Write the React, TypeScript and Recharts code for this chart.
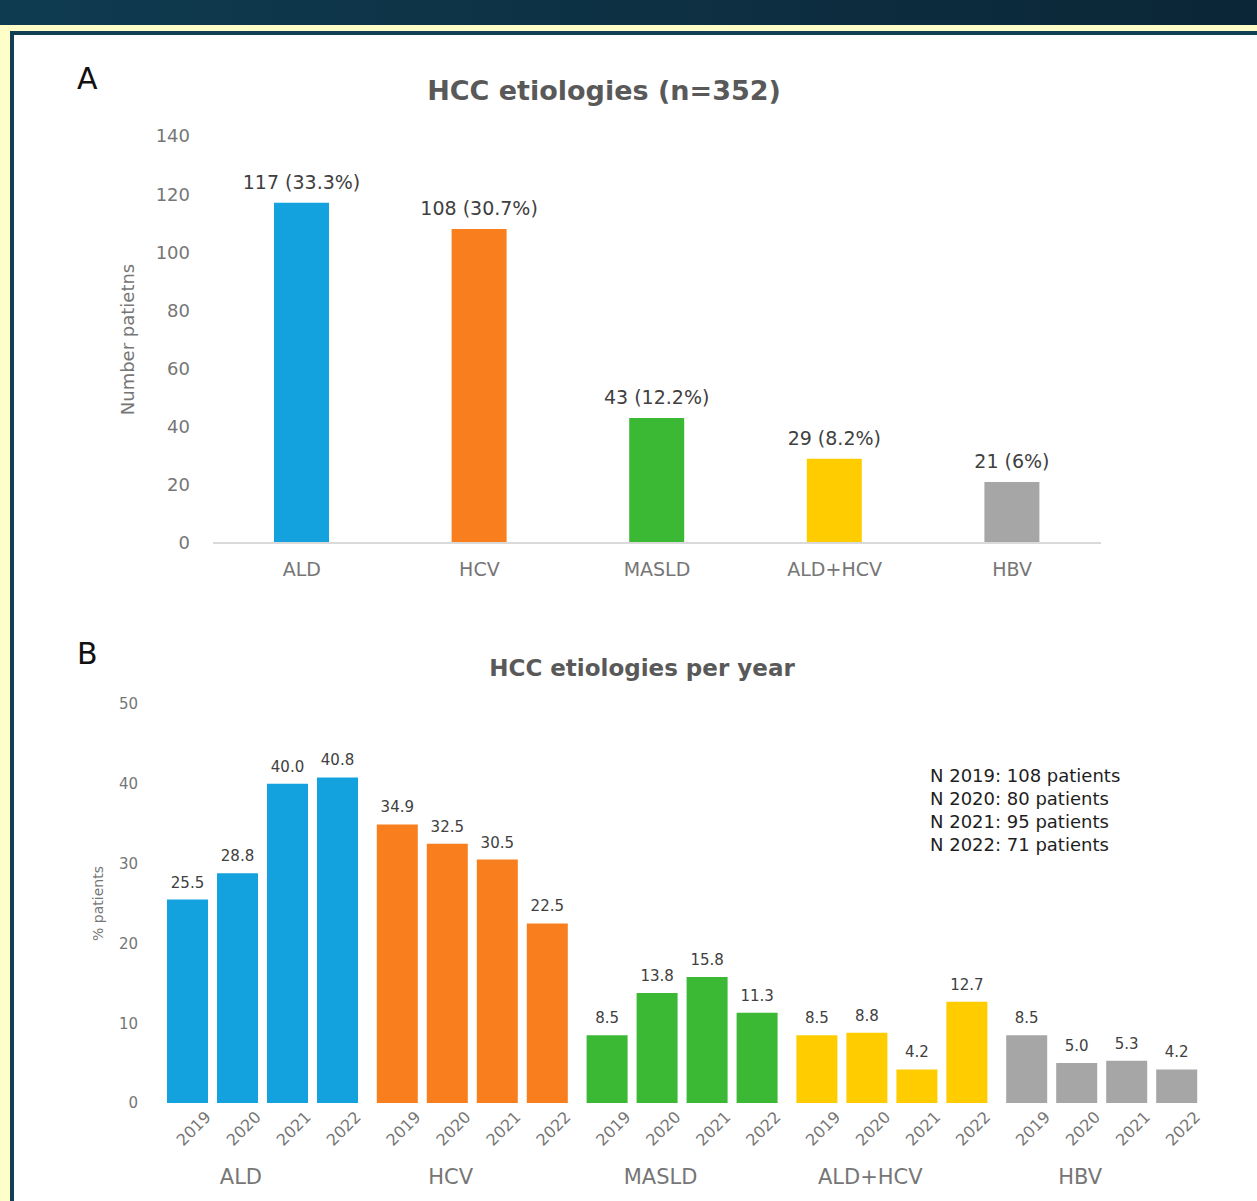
import React from 'react';
import { BarChart, Bar, XAxis, YAxis, Cell, LabelList, Label } from 'recharts';

const etiologies = ['ALD', 'HCV', 'MASLD', 'ALD+HCV', 'HBV'];
const patientCounts = [117, 108, 43, 29, 21];
const patientShares = ['33.3%', '30.7%', '12.2%', '8.2%', '6%'];
const etiologyColors = ['#13a2dd', '#f97e1d', '#3bb935', '#ffcc00', '#a6a6a6'];
const yearsList = ['2019', '2020', '2021', '2022'];
const pct2019 = [25.5, 34.9, 8.5, 8.5, 8.5];
const pct2020 = [28.8, 32.5, 13.8, 8.8, 5.0];
const pct2021 = [40.0, 30.5, 15.8, 4.2, 5.3];
const pct2022 = [40.8, 22.5, 11.3, 12.7, 4.2];
const yearTotals = [108, 80, 95, 71];
const ticksA = [0, 20, 40, 60, 80, 100, 120, 140];
const ticksB = [0, 10, 20, 30, 40, 50];

const dataA = etiologies.map((name, i) => ({
  name,
  count: patientCounts[i],
  label: `${patientCounts[i]} (${patientShares[i]})`,
}));

const yearSeries = [pct2019, pct2020, pct2021, pct2022];
const dataB = etiologies.map((name, i) => {
  const row: Record<string, number | string> = { name };
  yearsList.forEach((y, j) => {
    row['y' + y] = yearSeries[j][i];
  });
  return row;
});

const FONT = "'DejaVu Sans', sans-serif";
const AXIS_GRAY = '#767676';
const LABEL_DARK = '#404040';

const TopLabel = (props: any) => {
  const { x, y, width, value, offset, size } = props;
  return (
    <text
      x={Number(x) + Number(width) / 2}
      y={Number(y) - offset}
      textAnchor="middle"
      fontSize={size}
      fill={LABEL_DARK}
    >
      {value}
    </text>
  );
};

const YearLabel = (props: any) => {
  const { x, y, width, height, year } = props;
  const ax = Number(x) + Number(width) + 4;
  const ay = Number(y) + Number(height) + 15;
  return (
    <text
      x={ax}
      y={ay}
      textAnchor="end"
      fontSize={16}
      fill={AXIS_GRAY}
      transform={`rotate(-45, ${ax}, ${ay})`}
    >
      {year}
    </text>
  );
};

export default function App() {
  return (
    <div
      style={{
        position: 'absolute',
        left: 0,
        top: 0,
        width: 1257,
        height: 1201,
        overflow: 'hidden',
        background: '#fffdc8',
        fontFamily: FONT,
      }}
    >
      <div
        style={{
          position: 'absolute',
          left: 0,
          top: 0,
          width: 1257,
          height: 25,
          background: 'linear-gradient(90deg, #0f3b50 0%, #0b2636 100%)',
        }}
      />
      <div
        style={{
          position: 'absolute',
          left: 10,
          top: 31,
          width: 1300,
          height: 1250,
          boxSizing: 'border-box',
          border: '4px solid #113f55',
          background: '#ffffff',
        }}
      />

      {/* Panel A */}
      <div style={{ position: 'absolute', left: 77, top: 64, fontSize: 30, lineHeight: '30px', color: '#111' }}>A</div>
      <div
        style={{
          position: 'absolute',
          left: 0,
          top: 77,
          width: 1208,
          textAlign: 'center',
          fontSize: 27,
          lineHeight: '27px',
          fontWeight: 'bold',
          color: '#595959',
        }}
      >
        HCC etiologies (n=352)
      </div>
      <div style={{ position: 'absolute', left: 0, top: 0 }}>
        <BarChart
          width={1257}
          height={600}
          data={dataA}
          margin={{ top: 136, right: 156, bottom: 7, left: 43 }}
          barSize={55}
        >
          <XAxis
            dataKey="name"
            axisLine={{ stroke: '#d9d9d9', strokeWidth: 2 }}
            tickLine={false}
            tickSize={0}
            tickMargin={20}
            height={50}
            tick={{ fill: AXIS_GRAY, fontSize: 19 }}
          />
          <YAxis
            width={170}
            domain={[0, 140]}
            ticks={ticksA}
            axisLine={false}
            tickLine={false}
            tickSize={0}
            tickMargin={23}
            tick={{ fill: AXIS_GRAY, fontSize: 18 }}
          >
            <Label value="Number patietns" position="center" angle={-90} fill={AXIS_GRAY} fontSize={18} />
          </YAxis>
          <Bar dataKey="count" isAnimationActive={false}>
            {dataA.map((d, i) => (
              <Cell key={d.name} fill={etiologyColors[i]} />
            ))}
            <LabelList
              dataKey="label"
              content={(p: any) => <TopLabel {...p} offset={14} size={19} />}
            />
          </Bar>
        </BarChart>
      </div>

      {/* Panel B */}
      <div style={{ position: 'absolute', left: 77, top: 639, fontSize: 30, lineHeight: '30px', color: '#111' }}>B</div>
      <div
        style={{
          position: 'absolute',
          left: 0,
          top: 657,
          width: 1284,
          textAlign: 'center',
          fontSize: 23,
          lineHeight: '23px',
          fontWeight: 'bold',
          color: '#595959',
        }}
      >
        HCC etiologies per year
      </div>
      <div style={{ position: 'absolute', left: 0, top: 620 }}>
        <BarChart
          width={1257}
          height={581}
          data={dataB}
          margin={{ top: 84, right: 50, bottom: 0, left: 38 }}
          barSize={41}
          barGap={9}
        >
          <XAxis
            dataKey="name"
            axisLine={false}
            tickLine={false}
            tickSize={0}
            tickMargin={66}
            height={98}
            tick={{ fill: AXIS_GRAY, fontSize: 21, dx: -22 }}
          />
          <YAxis
            width={120}
            domain={[0, 50]}
            ticks={ticksB}
            axisLine={false}
            tickLine={false}
            tickSize={0}
            tickMargin={20}
            tick={{ fill: AXIS_GRAY, fontSize: 15 }}
          >
            <Label value="% patients" position="center" angle={-90} fill={AXIS_GRAY} fontSize={14} />
          </YAxis>
          {yearsList.map((yr) => (
            <Bar key={yr} dataKey={'y' + yr} isAnimationActive={false}>
              {dataB.map((d, i) => (
                <Cell key={String(d.name)} fill={etiologyColors[i]} />
              ))}
              <LabelList
                dataKey={'y' + yr}
                content={(p: any) => (
                  <TopLabel {...p} value={Number(p.value).toFixed(1)} offset={12} size={15} />
                )}
              />
              <LabelList dataKey={'y' + yr} content={(p: any) => <YearLabel {...p} year={yr} />} />
            </Bar>
          ))}
        </BarChart>
      </div>

      <div
        style={{
          position: 'absolute',
          left: 930,
          top: 764,
          fontSize: 18,
          lineHeight: '23px',
          color: '#1e1e1e',
          whiteSpace: 'nowrap',
        }}
      >
        {yearsList.map((yr, i) => (
          <div key={yr}>{`N ${yr}: ${yearTotals[i]} patients`}</div>
        ))}
      </div>
    </div>
  );
}
